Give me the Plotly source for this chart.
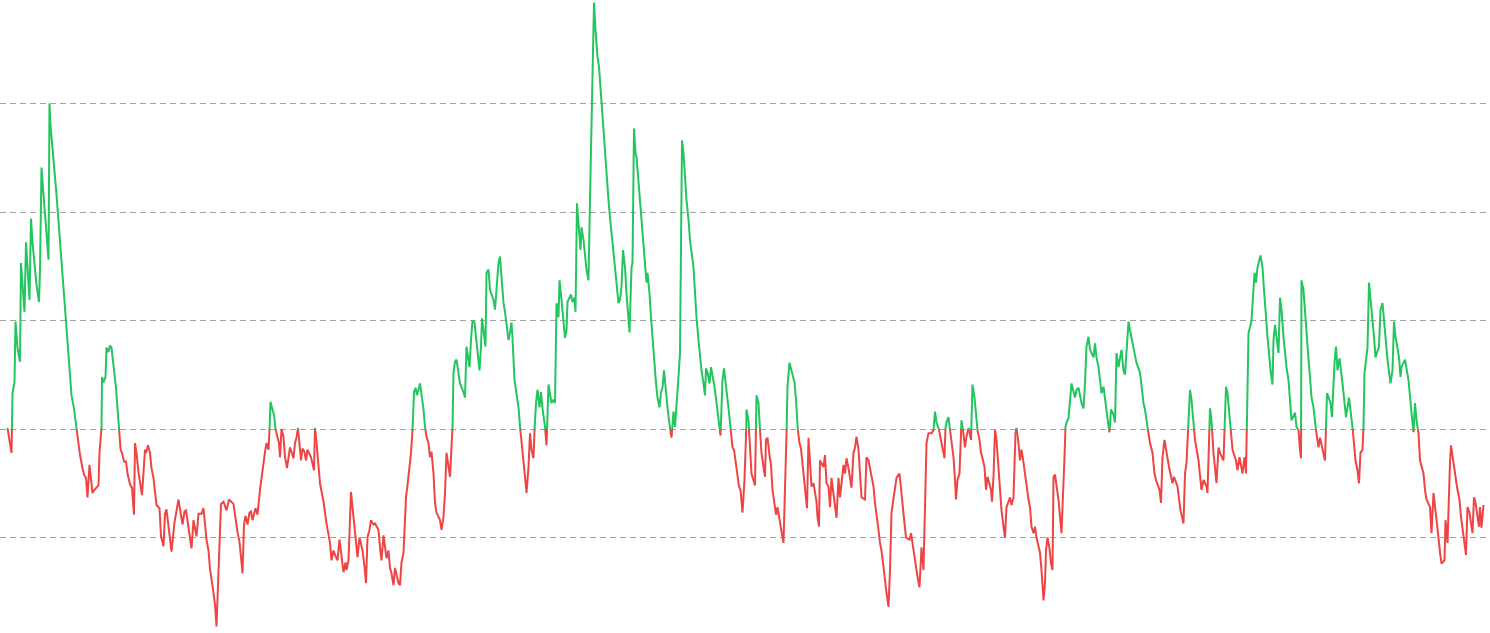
import plotly.graph_objects as go

# day index (half-day steps) and oscillator value
days = [
    1, 9, 10, 11, 15, 17, 21, 26, 28, 35,
    38, 45, 48, 51, 59, 64, 66, 69, 73, 79,
    83, 85, 87, 99, 106, 113, 119, 126, 129, 134,
    139, 143, 146, 151, 154, 158, 161, 165, 167, 171,
    175, 179, 183, 185, 189, 190, 193, 197, 199, 203,
    206, 209, 214, 218, 221, 224, 227, 231, 234, 238,
    241, 245, 247, 250, 254, 256, 259, 263, 266, 270,
    276, 278, 282, 286, 289, 293, 296, 299, 305, 308,
    313, 316, 319, 326, 329, 335, 339, 343, 351, 355,
    358, 361, 364, 369, 373, 379, 383, 389, 393, 399,
    403, 406, 413, 416, 419, 423, 426, 428, 433, 439,
    444, 453, 461, 465, 469, 471, 474, 477, 481, 485,
    488, 491, 497, 501, 506, 509, 513, 516, 519, 523,
    525, 527, 531, 534, 537, 541, 544, 546, 549, 553,
    556, 560, 566, 569, 573, 576, 579, 582, 586, 588,
    591, 595, 598, 601, 608, 611, 614, 616, 619, 626,
    629, 633, 639, 643, 646, 649, 653, 656, 661, 665,
    671, 673, 677, 679, 683, 685, 688, 691, 695, 698,
    701, 705, 711, 715, 718, 721, 725, 728, 733, 736,
    743, 746, 749, 753, 759, 763, 766, 769, 773, 776,
    783, 786, 789, 793, 798, 801, 805, 808, 811, 814,
    817, 820, 826, 829, 833, 836, 839, 843, 846, 849,
    853, 856, 859, 866, 869, 873, 876, 879, 883, 886,
    891, 893, 896, 899, 903, 906, 913, 916, 919, 925,
    928, 931, 935, 941, 945, 948, 950, 953, 957, 959,
    963, 966, 973, 976, 983, 986, 989, 993, 996, 999,
    1003, 1006, 1009, 1011, 1015, 1023, 1026, 1029, 1033, 1036,
    1039, 1043, 1046, 1049, 1053, 1055, 1058, 1061, 1065, 1068,
    1071, 1076, 1079, 1083, 1089, 1093, 1096, 1099, 1103, 1105,
    1109, 1113, 1116, 1119, 1121, 1128, 1131, 1135, 1137, 1140,
    1147, 1149, 1153, 1159, 1163, 1166, 1169, 1174, 1177, 1181,
    1184, 1189, 1193, 1196, 1199, 1203, 1206, 1209, 1213, 1216,
    1219, 1223, 1226, 1229, 1232, 1236, 1239, 1243, 1245, 1249,
    1251, 1254, 1257, 1259, 1263, 1266, 1269, 1273, 1276, 1279,
    1281, 1285, 1288, 1291, 1295, 1298, 1301, 1305, 1308, 1311,
    1314, 1317, 1321, 1324, 1326, 1329, 1333, 1336, 1339, 1343,
    1346, 1348, 1350, 1353, 1356, 1359, 1363, 1366, 1373, 1376,
    1379, 1383, 1386, 1389, 1393, 1396, 1398, 1401, 1405, 1408,
    1415, 1418, 1421, 1425, 1427, 1431, 1434, 1437, 1441, 1444,
    1447, 1451, 1454, 1457, 1461, 1464, 1467, 1471, 1475, 1478,
    1479, 1483, 1486, 1489, 1496, 1499, 1503, 1506, 1509, 1513,
    1516, 1518, 1521, 1525, 1528, 1531, 1535, 1538, 1541, 1545,
    1548, 1551, 1553, 1555, 1558, 1561, 1565, 1571, 1575, 1578,
    1581, 1585, 1588, 1591, 1595, 1598, 1600, 1603, 1606, 1609,
    1613, 1619, 1621, 1624, 1626, 1633, 1636, 1639, 1643, 1646,
    1649, 1656, 1659, 1663, 1666, 1673, 1676, 1679, 1683, 1689,
    1693, 1696, 1699, 1703, 1706, 1709, 1716, 1719, 1723, 1729,
    1733, 1736, 1739, 1743, 1746, 1749, 1753, 1756, 1759, 1763,
    1766, 1769, 1773, 1779, 1785, 1788, 1791, 1795, 1798, 1805,
    1808, 1811, 1815, 1818, 1821, 1825, 1829, 1833, 1836, 1839,
    1843, 1849, 1853, 1856, 1859, 1863, 1866, 1869, 1873, 1875,
    1877, 1879, 1883, 1889, 1893, 1896, 1898, 1901, 1905, 1909,
    1913, 1916, 1919, 1923, 1928, 1931, 1935, 1938, 1941, 1945,
    1948, 1951, 1955, 1958, 1961, 1968, 1970, 1973, 1976, 1979,
    1983, 1986, 1989, 1993, 1996, 1999, 2006, 2009, 2013, 2017,
    2019, 2023, 2026, 2029, 2033, 2039, 2043, 2046, 2049, 2053,
    2056, 2059, 2066, 2069, 2073, 2076, 2078, 2081, 2085, 2088,
    2091, 2093, 2096, 2103, 2106, 2109, 2115, 2117, 2119, 2123,
    2129, 2136, 2139, 2143, 2149, 2153, 2156, 2159, 2163, 2166,
    2173, 2176, 2179, 2183, 2186, 2189, 2193, 2196, 2199, 2203,
    2205, 2208, 2213, 2216, 2219, 2223, 2229, 2233, 2236, 2239,
    2243, 2246, 2253, 2259, 2266, 2269, 2273, 2276, 2279, 2283,
    2286, 2291, 2295, 2298, 2305, 2308, 2311, 2315, 2321, 2324,
    2331, 2334, 2341, 2344, 2347, 2353, 2356, 2359, 2366, 2369,
    2373, 2376, 2383, 2386, 2389, 2393, 2399, 2401, 2406, 2409,
    2413, 2419, 2423, 2426, 2433, 2438, 2441, 2445, 2448, 2451,
    2458, 2461, 2465, 2471, 2475, 2478, 2481, 2483, 2489, 2495,
    2498, 2501, 2507, 2511, 2514, 2517, 2521, 2524, 2527, 2531,
    2533, 2536, 2543, 2546, 2549, 2553, 2556, 2559, 2563, 2566,
    2569, 2576, 2579, 2583, 2586, 2588, 2589, 2593, 2596, 2599,
    2603, 2606, 2609, 2613, 2616, 2619, 2623, 2626, 2633, 2636,
    2638, 2640, 2647, 2650, 2655, 2658, 2661, 2665, 2671, 2675,
    2678, 2684, 2691, 2694, 2697, 2701, 2704, 2707, 2711, 2713,
    2715, 2718, 2721, 2724, 2727, 2731, 2734, 2737, 2744, 2747,
    2751, 2754, 2757, 2761, 2767, 2771, 2774, 2777, 2784, 2787,
    2789, 2796, 2803, 2806, 2809, 2813, 2816, 2819, 2823, 2826,
    2833, 2836, 2839, 2846, 2849, 2853, 2859, 2863, 2866, 2869,
    2875, 2877, 2881, 2884, 2886, 2888, 2891, 2898, 2901, 2905,
    2908, 2911, 2915, 2918, 2921, 2925, 2928, 2931, 2934, 2937,
    2944, 2946, 2949, 2953,
]

values = [
    0.01, -0.22, 0.01, 0.33, 0.43, 0.99, 0.75, 0.62, 1.53, 1.08,
    1.72, 1.19, 1.94, 1.72, 1.33, 1.17, 1.47, 2.41, 2.16, 1.79,
    1.56, 3.00, 2.80, 2.16, 1.76, 1.30, 0.93, 0.47, 0.31, 0.19,
    0.01, -0.15, -0.24, -0.36, -0.42, -0.45, -0.63, -0.33, -0.40, -0.59,
    -0.56, -0.54, -0.52, -0.22, 0.01, 0.48, 0.43, 0.48, 0.75, 0.71,
    0.77, 0.75, 0.56, 0.38, 0.19, 0.01, -0.18, -0.24, -0.30, -0.30,
    -0.41, -0.49, -0.52, -0.54, -0.79, -0.13, -0.22, -0.40, -0.49, -0.61,
    -0.19, -0.22, -0.15, -0.22, -0.36, -0.45, -0.58, -0.70, -0.73, -0.99,
    -1.08, -0.78, -0.74, -1.02, -1.13, -0.86, -0.76, -0.65, -0.88, -0.76,
    -0.75, -0.84, -0.95, -1.10, -0.84, -0.99, -0.78, -0.78, -0.73, -1.02,
    -1.12, -1.29, -1.51, -1.62, -1.82, -1.29, -0.95, -0.69, -0.67, -0.75,
    -0.65, -0.69, -0.95, -1.04, -1.23, -1.33, -0.88, -0.80, -0.88, -0.77,
    -0.76, -0.84, -0.73, -0.79, -0.56, -0.44, -0.29, -0.21, -0.13, -0.19,
    -0.01, 0.25, 0.18, 0.13, 0.00, -0.07, -0.13, -0.26, 0.00, -0.07,
    -0.26, -0.36, -0.17, -0.21, -0.27, -0.13, -0.08, 0.01, -0.17, -0.29,
    -0.18, -0.21, -0.29, -0.19, -0.26, -0.31, -0.38, 0.01, -0.12, -0.50,
    -0.56, -0.67, -0.87, -0.96, -1.05, -1.21, -1.12, -1.16, -1.21, -1.02,
    -1.27, -1.32, -1.23, -1.30, -1.21, -0.90, -0.58, -0.72, -0.90, -1.09,
    -1.18, -1.00, -1.12, -1.27, -1.42, -1.00, -0.93, -0.84, -0.88, -0.87,
    -0.93, -1.09, -1.21, -0.98, -1.19, -1.12, -1.28, -1.33, -1.44, -1.28,
    -1.42, -1.44, -1.23, -1.14, -0.63, -0.52, -0.35, -0.22, -0.01, 0.34,
    0.38, 0.31, 0.42, 0.33, 0.18, 0.02, -0.07, -0.13, -0.26, -0.21,
    -0.41, -0.68, -0.77, -0.84, -0.93, -0.81, -0.59, -0.22, -0.35, -0.44,
    0.01, 0.52, 0.62, 0.64, 0.52, 0.42, 0.34, 0.29, 0.76, 0.57,
    0.82, 1.00, 0.98, 0.70, 0.54, 0.76, 1.02, 0.91, 0.76, 1.44,
    1.47, 1.28, 1.19, 1.10, 1.53, 1.59, 1.40, 1.16, 1.08, 0.94,
    0.82, 0.89, 0.98, 0.84, 0.45, 0.20, 0.02, -0.10, -0.26, -0.44,
    -0.59, -0.35, -0.04, -0.19, -0.27, -0.01, 0.24, 0.36, 0.20, 0.34,
    0.19, 0.02, -0.15, 0.41, 0.24, 0.27, 0.24, 1.16, 1.03, 1.37,
    1.19, 1.00, 0.84, 0.91, 1.17, 1.24, 1.17, 1.21, 1.08, 2.08,
    1.65, 1.86, 1.74, 1.47, 1.37, 2.11, 2.82, 3.93, 3.68, 3.43,
    3.34, 3.00, 2.78, 2.60, 2.36, 2.11, 1.95, 1.81, 1.62, 1.44,
    1.31, 1.16, 1.19, 1.31, 1.65, 1.49, 1.25, 1.03, 0.89, 1.49,
    1.53, 2.77, 2.54, 2.51, 2.27, 2.05, 1.93, 1.71, 1.47, 1.35,
    1.44, 1.25, 1.03, 0.82, 0.64, 0.42, 0.29, 0.20, 0.34, 0.38,
    0.54, 0.36, 0.20, 0.08, 0.01, -0.08, 0.16, 0.02, 0.27, 0.48,
    0.70, 1.49, 2.66, 2.54, 2.32, 2.11, 1.93, 1.74, 1.49, 1.25,
    1.03, 0.82, 0.66, 0.54, 0.42, 0.31, 0.56, 0.52, 0.42, 0.57,
    0.39, 0.29, 0.18, 0.02, -0.06, 0.45, 0.56, 0.45, 0.27, 0.15,
    0.01, -0.17, -0.19, -0.30, -0.41, -0.53, -0.56, -0.77, -0.47, -0.17,
    0.18, 0.08, -0.19, -0.41, -0.52, 0.31, 0.24, -0.01, -0.22, -0.35,
    -0.44, -0.10, -0.08, -0.24, -0.33, -0.56, -0.68, -0.79, -0.72, -0.84,
    -0.95, -1.00, -1.05, -0.67, -0.29, 0.39, 0.61, 0.50, 0.43, 0.27,
    0.02, -0.13, -0.18, -0.31, -0.50, -0.64, -0.73, -0.08, -0.26, -0.53,
    -0.50, -0.67, -0.81, -0.90, -0.29, -0.35, -0.24, -0.50, -0.53, -0.72,
    -0.45, -0.68, -0.82, -0.45, -0.63, -0.33, -0.41, -0.27, -0.36, -0.54,
    -0.22, -0.17, -0.07, -0.19, -0.44, -0.63, -0.65, -0.26, -0.29, -0.44,
    -0.53, -0.68, -0.77, -0.93, -1.05, -1.12, -1.27, -1.42, -1.51, -1.64,
    -1.30, -0.77, -0.63, -0.45, -0.41, -0.53, -0.65, -0.87, -1.00, -1.02,
    -0.96, -1.05, -1.18, -1.30, -1.36, -1.46, -1.09, -1.30, -0.68, -0.13,
    -0.04, -0.04, -0.01, 0.16, 0.06, 0.02, -0.07, -0.13, -0.22, -0.27,
    0.01, 0.06, 0.11, -0.13, -0.26, -0.47, -0.65, -0.47, -0.41, 0.08,
    -0.04, -0.17, -0.07, 0.01, -0.10, 0.41, 0.29, 0.15, -0.01, -0.10,
    -0.22, -0.27, -0.35, -0.56, -0.44, -0.56, -0.67, -0.44, -0.01, -0.10,
    -0.35, -0.56, -0.75, -0.90, -1.00, -0.72, -0.63, -0.70, -0.63, -0.04,
    0.01, -0.13, -0.29, -0.19, -0.31, -0.53, -0.65, -0.72, -0.90, -0.96,
    -0.90, -1.00, -1.14, -1.30, -1.58, -1.42, -1.12, -1.00, -1.10, -1.24,
    -1.30, -0.44, -0.42, -0.65, -0.84, -0.96, -0.26, 0.02, 0.06, 0.10,
    0.42, 0.29, 0.36, 0.38, 0.24, 0.19, 0.42, 0.76, 0.85, 0.73,
    0.66, 0.79, 0.66, 0.57, 0.45, 0.33, 0.39, 0.27, 0.18, 0.02,
    -0.03, 0.18, 0.13, 0.06, 0.70, 0.57, 0.73, 0.54, 0.50, 0.76,
    0.99, 0.91, 0.73, 0.61, 0.52, 0.39, 0.24, 0.18, 0.08, -0.04,
    -0.13, -0.22, -0.41, -0.47, -0.56, -0.68, -0.26, -0.10, -0.29, -0.35,
    -0.50, -0.44, -0.53, -0.65, -0.75, -0.87, -0.41, -0.31, 0.36, 0.27,
    0.06, -0.10, -0.29, -0.41, -0.56, -0.47, -0.53, -0.59, 0.19, 0.08,
    -0.22, -0.50, -0.17, -0.22, -0.29, 0.39, 0.33, 0.15, -0.04, -0.19,
    -0.29, -0.38, -0.26, -0.41, -0.26, -0.41, 0.36, 0.88, 1.00, 1.44,
    1.35, 1.49, 1.60, 1.49, 1.28, 1.07, 0.85, 0.70, 0.54, 0.41,
    0.82, 0.96, 0.70, 1.21, 1.10, 0.85, 0.70, 0.57, 0.45, 0.29,
    0.08, 0.15, 0.02, -0.01, -0.19, -0.27, 1.37, 1.28, 1.07, 0.85,
    0.64, 0.48, 0.29, 0.20, 0.06, -0.04, -0.17, -0.08, -0.21, -0.29,
    0.02, 0.33, 0.24, 0.11, 0.61, 0.76, 0.54, 0.65, 0.42, 0.24,
    0.11, 0.29, 0.02, -0.13, -0.29, -0.38, -0.50, -0.22, -0.19, 0.02,
    0.52, 0.62, 0.75, 1.35, 1.16, 1.00, 0.85, 0.66, 0.76, 1.10,
    1.16, 1.00, 0.85, 0.64, 0.42, 0.54, 0.99, 0.85, 0.66, 0.48,
    0.57, 0.64, 0.45, 0.33, 0.15, -0.03, 0.24, 0.08, -0.04, -0.29,
    -0.41, -0.56, -0.65, -0.72, -0.96, -0.59, -0.81, -1.00, -1.14, -1.24,
    -1.21, -0.84, -1.05, -0.50, -0.31, -0.15, -0.26, -0.47, -0.56, -0.65,
    -0.81, -0.93, -1.05, -1.16, -0.72, -0.77, -0.87, -0.96, -0.63, -0.68,
    -0.90, -0.72, -0.91, -0.70,
]

threshold = 0.0
grid_levels = [-1, 0, 1, 2, 3]

assert len(days) == len(values), (len(days), len(values))

# insert the threshold crossings so each colour ends exactly at the baseline
px_x, px_y = [days[0]], [values[0]]
for i in range(1, len(days)):
    x0, y0, x1, y1 = days[i - 1], values[i - 1], days[i], values[i]
    if (y0 - threshold) * (y1 - threshold) < 0:
        t = (threshold - y0) / (y1 - y0)
        px_x.append(x0 + t * (x1 - x0))
        px_y.append(threshold)
    px_x.append(x1)
    px_y.append(y1)

green_y = [y if y >= threshold else None for y in px_y]
red_y = [y if y <= threshold else None for y in px_y]

fig = go.Figure()
fig.add_trace(go.Scatter(x=px_x, y=red_y, mode="lines",
                         line=dict(color="#ef4444", width=2),
                         connectgaps=False, hoverinfo="skip", showlegend=False))
fig.add_trace(go.Scatter(x=px_x, y=green_y, mode="lines",
                         line=dict(color="#22c55e", width=2),
                         connectgaps=False, hoverinfo="skip", showlegend=False))

fig.update_layout(
    width=1490, height=633,
    margin=dict(l=0, r=0, t=0, b=0),
    paper_bgcolor="white", plot_bgcolor="white",
    showlegend=False,
)
fig.update_xaxes(range=[-14, 2966], showgrid=False, zeroline=False,
                 showticklabels=False, ticks="", showline=False)
fig.update_yaxes(range=[-1.880, 3.954], tickmode="array", tickvals=grid_levels,
                 showgrid=True, gridcolor="#a3a3a3", gridwidth=1, griddash="6px,4px",
                 zeroline=False, showticklabels=False, ticks="", showline=False)

fig.write_html(
    "out.html",
    config={"displayModeBar": False},
    post_script="document.body.style.margin='0';document.body.style.overflow='hidden';",
)
